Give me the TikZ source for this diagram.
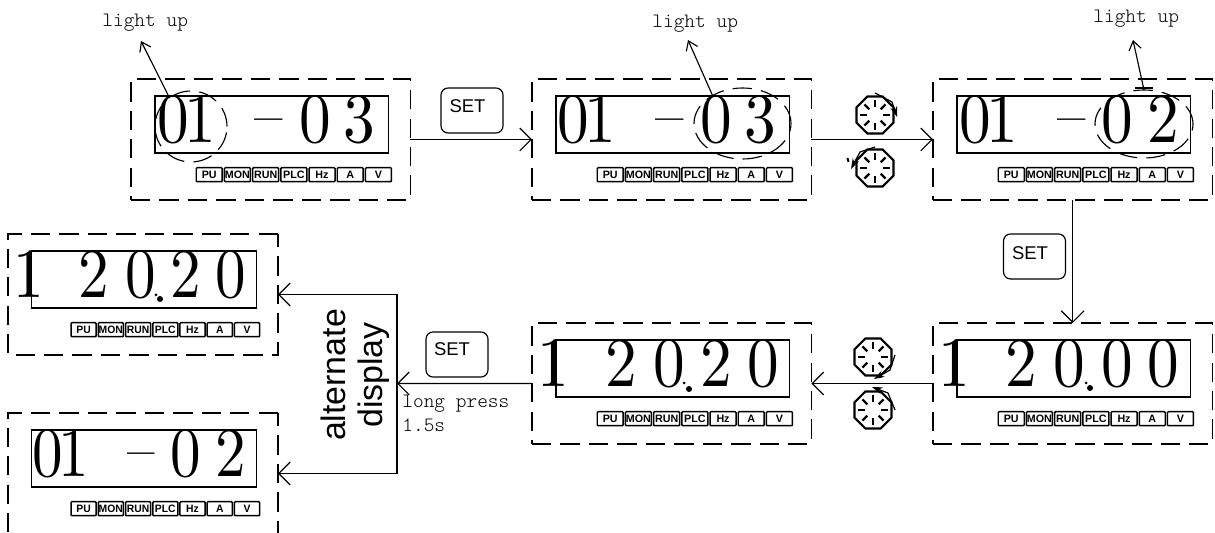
\documentclass[tikz,border=0pt]{standalone}
\usepackage{fontspec}
\newfontfamily\arialfont{Liberation Sans}
\newfontfamily\lcdfont[Extension=.otf,FakeStretch=0.9]{lmroman10-regular}
\newfontfamily\notefont[Extension=.otf]{lmmonolt10-regular}
\usetikzlibrary{arrows.meta,shapes.geometric}

\tikzset{
  panelbox/.style={draw,line width=0.65pt,dash pattern=on 11pt off 5.2pt,anchor=north west,inner sep=0pt,outer sep=0pt,minimum width=5.59cm,minimum height=2.42cm},
  lcdbox/.style={draw,line width=0.7pt,anchor=north west,inner sep=0pt,outer sep=0pt,minimum width=4.67cm,minimum height=1.14cm},
  digit/.style={anchor=base,inner sep=0pt,font=\lcdfont\fontsize{40}{40}\selectfont},
  badge/.style={draw,line width=0.85pt,rounded corners=0.5pt,anchor=north west,inner sep=0pt,minimum width=0.52cm,minimum height=0.28cm,font=\arialfont\bfseries\fontsize{6.1}{6.1}\selectfont},
  ring/.style={draw,ellipse,line width=0.65pt,dash pattern=on 11pt off 5.2pt,inner sep=0pt,outer sep=0pt},
  setbox/.style={draw,line width=0.65pt,rounded corners=4pt,inner sep=0pt,minimum width=1.24cm,minimum height=0.9cm},
  settext/.style={inner sep=0pt,font=\arialfont\fontsize{10.5}{10.5}\selectfont},
  monotext/.style={anchor=base west,inner sep=0pt,font=\notefont\fontsize{11.6}{11.6}\selectfont},
  dialbox/.style={draw,regular polygon,regular polygon sides=8,line width=1.2pt,inner sep=0pt,outer sep=0pt,minimum size=0.8cm},
  conn/.style={line width=0.65pt,-{Straight Barb[length=6.5pt,width=13pt]}},
  pointer/.style={line width=0.65pt,-{Straight Barb[length=5pt,width=7pt]}},
  turn/.style={line width=0.7pt,-{Stealth[length=6pt,width=4pt]}}
}

\newcommand{\dashglyph}{\raisebox{3.5pt}{\fontsize{36}{36}\selectfont\textendash}}

% name, left, top, xscale, glyph/position list
\newcommand{\lcdpanel}[5]{%
  \begin{scope}[shift={(#2,#3)},xscale=#4,transform shape]
    \node[panelbox] (#1) at (0,0) {};
    \node[lcdbox] (#1-lcd) at (24,17) {};
    \foreach \g/\px [count=\i] in {#5}
      \node[digit] (#1-d\i) at (\px,64) {\g};
    \foreach \b [count=\i] in {PU,MON,RUN,PLC,Hz,A,V}
      \node[badge] (#1-b\i) at ({64.5+28.2*(\i-1)},88) {\b};
  \end{scope}}

\newcommand{\dial}[3]{%
  \node[dialbox] (#1) at (#2,#3) {};
  \foreach \a in {0,45,...,315}
    \draw[line width=1.4pt] ([shift={(\a:8)}]#1.center) -- ([shift={(\a:15)}]#1.center);}

\begin{document}
\begin{tikzpicture}[x=0.02cm,y=-0.02cm]
  \useasboundingbox (0,0) rectangle (1215,533);

  \lcdpanel{p1}{131}{79}{1}{0/42,1/69,\dashglyph/138,0/184,3/228}
  \lcdpanel{p2}{532}{79}{1}{0/41,1/68,\dashglyph/138,0/184,3/228}
  \lcdpanel{p3}{933}{79}{1}{0/42,1/69,\dashglyph/139,0/184,2/230}
  \lcdpanel{p4}{933}{323}{1}{1/21,2/88,0/136,0/184,0/230}
  \lcdpanel{p5}{532}{323}{1}{1/21,2/89,0/137,2/184,0/231}
  \lcdpanel{p6}{8}{234}{0.966}{1/21,2/89,0/137,2/184,0/231}
  \lcdpanel{p7}{8}{413}{0.966}{0/41,1/68,\dashglyph/138,0/184,2/231}

  % decimal points
  \fill (1090,388) circle (3);
  \fill (1086,383) circle (1.5);
  \fill (689,389) circle (3);
  \fill (684,383) circle (1.5);
  \fill (160,299) circle (3);
  \fill (156,295) circle (1.5);

  % lit digits
  \node[ring,minimum width=1.44cm,minimum height=1.42cm] (r1) at (191,126.5) {};
  \node[ring,minimum width=1.94cm,minimum height=1.42cm] (r2) at (742.5,123.5) {};
  \node[ring,minimum width=1.96cm,minimum height=1.36cm] (r3) at (1144,124) {};

  \coordinate (u1) at (141,41);
  \coordinate (u2) at (688,40);
  \coordinate (u3) at (1133,40);
  \draw[pointer] (r1.127) -- (u1);
  \draw[pointer] (r2.137) -- (u2);
  \draw[pointer] (r3.north) -- (u3);
  \draw[line width=0.65pt] (1135,88) -- (1153,88);

  \node[monotext] (t1) at (102,27) {light up};
  \node[monotext] (t2) at (652,28) {light up};
  \node[monotext] (t3) at (1093,23) {light up};

  % SET keys
  \node[setbox] (s1) at (472,110.5) {};
  \node[settext] (s1t) at (467.5,106) {SET};
  \node[setbox] (s2) at (1034.5,256.5) {};
  \node[settext] (s2t) at (1030,253) {SET};
  \node[setbox] (s3) at (457,354.5) {};
  \node[settext] (s3t) at (452,349) {SET};

  % knobs
  \dial{k1}{875}{115}
  \dial{k2}{875}{168}
  \dial{k3}{873}{357}
  \dial{k4}{873}{410}
  \draw[turn] (875,93) -- (892,102) -- (897,117);
  \draw[turn] (875,147) -- (860,152) -- (851,169);
  \draw[line width=1.1pt] (847.5,158) -- (848.5,162);
  \draw[turn] (895,355) -- (890,370) -- (874,379);
  \draw[turn] (895,410) -- (888,393) -- (872,387);

  % connectors
  \coordinate (j) at (397,383.5);
  \draw[conn] (p1) -- (p2);
  \draw[conn] (p2) -- (p3);
  \draw[conn] (p3) -- (p4);
  \draw[conn] (p4) -- (p5);
  \draw[conn] (p5) -- (j);
  \draw[conn] (j) |- (p6.east);
  \draw[conn] (j) |- (p7.east);

  \node[rotate=90,align=center,inner sep=0pt,font=\arialfont\fontsize{19.3}{21}\selectfont] (alt) at (355,375) {alternate\\display};
  \node[monotext] (lp1) at (402,408) {long press};
  \node[monotext] (lp2) at (402,432) {1.5s};
\end{tikzpicture}
\end{document}
